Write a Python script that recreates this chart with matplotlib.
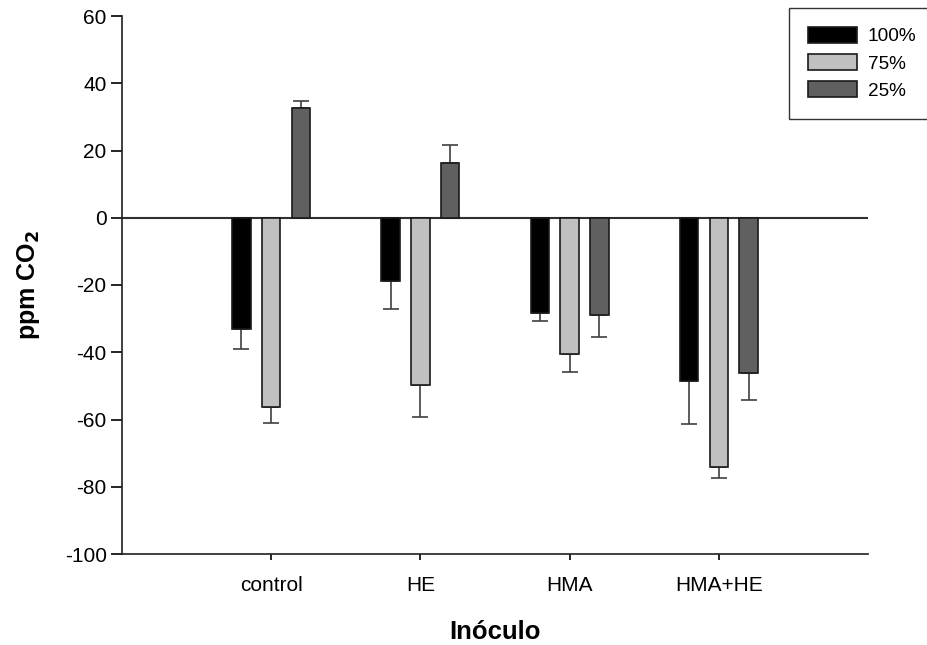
import matplotlib.pyplot as plt
import numpy as np

plt.rcParams['font.family'] = ['Liberation Sans', 'DejaVu Sans']
plt.rcParams['axes.unicode_minus'] = False

inoculos = ['control', 'HE', 'HMA', 'HMA+HE']
niveis = ['100%', '75%', '25%']

# ppm CO2 médio por nível e erro padrão
media_100 = [-33.0, -18.7, -28.2, -48.6]
media_75 = [-56.4, -49.8, -40.5, -74.1]
media_25 = [32.6, 16.2, -28.8, -46.2]
erro_100 = [6.0, 8.5, 2.4, 12.6]
erro_75 = [4.6, 9.4, 5.3, 3.3]
erro_25 = [2.1, 5.3, 6.6, 8.1]

cores = ['#000000', '#c0c0c0', '#606060']

fig = plt.figure(figsize=(9.27, 6.45), dpi=100)
ax = fig.add_axes([122 / 927, 1 - 554 / 645, 746 / 927, 538 / 645])

x = np.arange(len(inoculos))
largura = 0.124
desloc = 0.2

ax.axhline(0, color='#303030', lw=1.5, zorder=1)

series = [(media_100, erro_100), (media_75, erro_75), (media_25, erro_25)]
for i, (media, erro) in enumerate(series):
    media = np.array(media)
    erro = np.array(erro)
    # erro só para o lado oposto ao zero
    baixo = np.where(media < 0, erro, 0)
    cima = np.where(media >= 0, erro, 0)
    pos = x + (i - 1) * desloc
    ax.errorbar(pos, media, yerr=[baixo, cima], fmt='none', ecolor='#404040',
                elinewidth=1.2, capsize=5.8, capthick=1.2, zorder=2)
    ax.bar(pos, media, width=largura, color=cores[i], edgecolor='#1a1a1a',
           linewidth=1.2, label=niveis[i], zorder=3)

ax.set_xlim(-1, 4)
ax.set_ylim(-100, 60)
ax.set_yticks(np.arange(-100, 61, 20))
ax.set_xticks(x)
ax.set_xticklabels(inoculos)

for s in ['top', 'right']:
    ax.spines[s].set_visible(False)
for s in ['left', 'bottom']:
    ax.spines[s].set_linewidth(1.2)
    ax.spines[s].set_color('#202020')

ax.tick_params(axis='y', direction='out', length=8, width=1.2, labelsize=15, pad=3)
ax.tick_params(axis='x', direction='out', length=4, width=1.2, labelsize=15, pad=12)

ax.set_xlabel('Inóculo', fontsize=18.5, fontweight='bold', labelpad=18)
ax.set_ylabel('ppm CO$_\\mathbf{2}$', fontsize=18, fontweight='bold', labelpad=16)

leg = fig.legend(loc='upper left', bbox_to_anchor=(789 / 927, 1 - 8 / 645),
                 fontsize=13.7, frameon=True, fancybox=False, borderpad=1.0,
                 handlelength=2.55, handleheight=0.9, handletextpad=0.6,
                 labelspacing=0.45, borderaxespad=0)
leg.get_frame().set_edgecolor('black')
leg.get_frame().set_linewidth(1.0)

fig.savefig('out.png', dpi=100)
